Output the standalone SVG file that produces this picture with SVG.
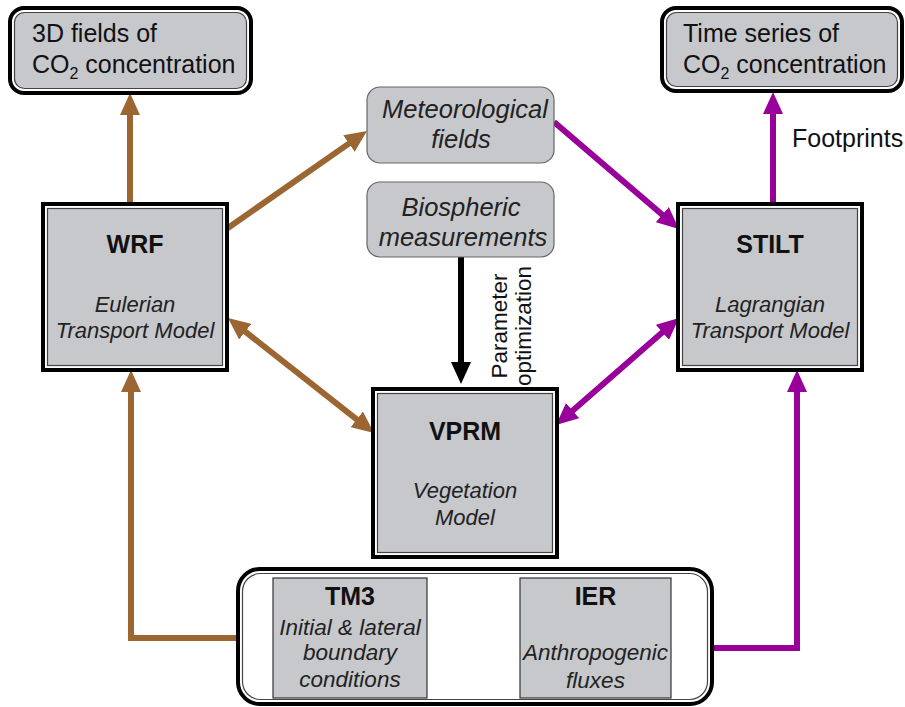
<svg xmlns="http://www.w3.org/2000/svg" width="905" height="707" viewBox="0 0 905 707">
<style>
.outer{fill:#fff;stroke:#000;stroke-width:4}
.inner{fill:#c6c8cc;stroke:#444;stroke-width:1.2}
.soft{fill:#c6c8cc;stroke:#666;stroke-width:1.2}
.plain{fill:#c6c8cc;stroke:#333;stroke-width:1.2}
.t{font-family:"Liberation Sans",Arial,sans-serif;fill:#111}
.b{font-weight:bold;font-size:25px;text-anchor:middle}
.i{font-style:italic;font-size:22px;text-anchor:middle;fill:#222}
.i2{font-size:22.5px}
.mb{font-size:25.5px}
.big{font-size:25px}
.brown{stroke:#9c6632;stroke-width:6;fill:none}
.purple{stroke:#990099;stroke-width:6;fill:none}
.black{stroke:#000;stroke-width:6;fill:none}
</style>
<defs>
<marker id="ab" markerUnits="userSpaceOnUse" markerWidth="22" markerHeight="20" refX="2" refY="10" orient="auto-start-reverse"><path d="M0,0 L22,10 L0,20 z" fill="#9c6632"/></marker>
<marker id="ap" markerUnits="userSpaceOnUse" markerWidth="22" markerHeight="20" refX="2" refY="10" orient="auto-start-reverse"><path d="M0,0 L22,10 L0,20 z" fill="#990099"/></marker>
<marker id="ak" markerUnits="userSpaceOnUse" markerWidth="22" markerHeight="20" refX="2" refY="10" orient="auto-start-reverse"><path d="M0,0 L22,10 L0,20 z" fill="#000"/></marker>
</defs>
<rect width="905" height="707" fill="#fff"/>

<g id="connectors">
<path class="brown" d="M130,203 V113" marker-end="url(#ab)"/>
<path class="purple" d="M773,203 V112" marker-end="url(#ap)"/>
<path class="black" d="M461,257 V364" marker-end="url(#ak)"/>
<path class="brown" d="M225,230 L350.6,142.4" marker-end="url(#ab)"/>
<path class="purple" d="M554,122 L663.8,216" marker-end="url(#ap)"/>
<path class="brown" d="M243.7,330.4 L358.3,420.6" marker-start="url(#ab)" marker-end="url(#ab)"/>
<path class="purple" d="M663.9,331.1 L571.1,411.9" marker-start="url(#ap)" marker-end="url(#ap)"/>
<path class="brown" d="M238,638 H131 V390" marker-end="url(#ab)"/>
<path class="purple" d="M712,648 H797 V390" marker-end="url(#ap)"/>
<text class="t" x="792" y="147" style="font-size:25px">Footprints</text>
<text class="t" style="font-size:22.5px" text-anchor="middle" transform="translate(507,326) rotate(-90)">Parameter</text>
<text class="t" style="font-size:22.5px" text-anchor="middle" transform="translate(531,326) rotate(-90)">optimization</text>
</g>

<g id="fields3d">
<rect class="outer" x="10" y="8" width="241" height="85" rx="14"/>
<rect class="inner" x="14.5" y="12.5" width="232" height="76" rx="10"/>
<text class="t big" x="32" y="42">3D fields of</text>
<text class="t big" x="32" y="73">CO<tspan style="font-size:16px" dy="6">2</tspan><tspan dy="-6"> concentration</tspan></text>
</g>

<g id="timeseries">
<rect class="outer" x="662" y="8" width="240" height="83" rx="14"/>
<rect class="inner" x="666.5" y="12.5" width="231" height="74" rx="10"/>
<text class="t big" x="683" y="42">Time series of</text>
<text class="t big" x="683" y="73">CO<tspan style="font-size:16px" dy="6">2</tspan><tspan dy="-6"> concentration</tspan></text>
</g>

<g id="met">
<rect class="soft" x="367" y="87" width="187" height="76" rx="13"/>
<text class="t i mb" x="465" y="118">Meteorological</text>
<text class="t i mb" x="461" y="148">fields</text>
</g>

<g id="bio">
<rect class="soft" x="367" y="182" width="187" height="75" rx="13"/>
<text class="t i mb" x="461" y="216">Biospheric</text>
<text class="t i mb" x="463" y="246">measurements</text>
</g>

<g id="wrf">
<rect class="outer" x="43" y="204" width="184" height="166"/>
<rect class="inner" x="47.5" y="208.5" width="175" height="157"/>
<text class="t b" x="135" y="253">WRF</text>
<text class="t i" x="135" y="312">Eulerian</text>
<text class="t i" x="135" y="338">Transport Model</text>
</g>

<g id="stilt">
<rect class="outer" x="678" y="204" width="184" height="166"/>
<rect class="inner" x="682.5" y="208.5" width="175" height="157"/>
<text class="t b" x="770" y="253">STILT</text>
<text class="t i" x="770" y="312">Lagrangian</text>
<text class="t i" x="770" y="338">Transport Model</text>
</g>

<g id="vprm">
<rect class="outer" x="373" y="389" width="184" height="168"/>
<rect class="inner" x="377.5" y="393.5" width="175" height="159"/>
<text class="t b" x="465" y="440">VPRM</text>
<text class="t i" x="465" y="498">Vegetation</text>
<text class="t i" x="465" y="525">Model</text>
</g>

<g id="sources">
<rect class="outer" x="238" y="569" width="474" height="135" rx="22"/>
<rect x="242.5" y="573.5" width="465" height="126" rx="18" fill="none" stroke="#444" stroke-width="1.2"/>
</g>

<g id="tm3">
<rect class="plain" x="273" y="578" width="154" height="120"/>
<text class="t b" x="350" y="605">TM3</text>
<text class="t i i2" x="350" y="635">Initial &amp; lateral</text>
<text class="t i i2" x="350" y="660">boundary</text>
<text class="t i i2" x="350" y="687">conditions</text>
</g>

<g id="ier">
<rect class="plain" x="520" y="578" width="151" height="120"/>
<text class="t b" x="595.5" y="605">IER</text>
<text class="t i i2" x="595.5" y="660">Anthropogenic</text>
<text class="t i i2" x="595.5" y="688">fluxes</text>
</g>
</svg>
